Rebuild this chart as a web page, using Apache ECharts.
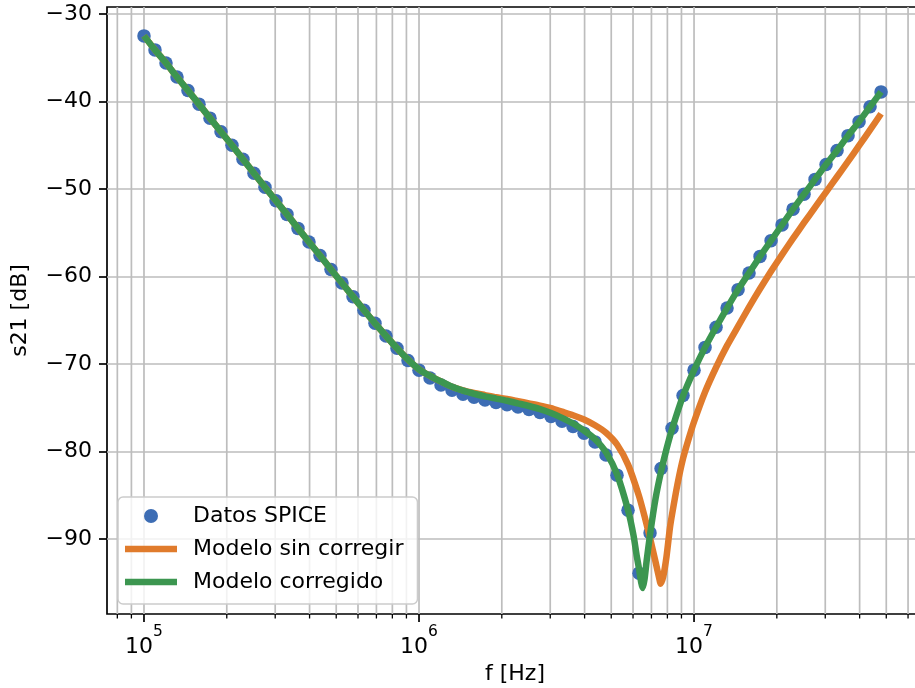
<!DOCTYPE html>
<html><head><meta charset="utf-8">
<script src="https://cdn.jsdelivr.net/npm/echarts@6/dist/echarts.min.js"></script>
<style>html,body{margin:0;padding:0;background:#fff;overflow:hidden}#c{width:915px;height:688px}</style>
</head><body><div id="c"></div>
<script>
// ---------- data ----------
const seriesNames = ['Datos SPICE', 'Modelo sin corregir', 'Modelo corregido'];
const xAxisTitle = 'f [Hz]';
const yAxisTitle = 's21 [dB]';

const spiceFreq = [
  1.0000e5,1.0965e5,1.2023e5,1.3183e5,1.4454e5,1.5849e5,1.7378e5,1.9055e5,2.0893e5,2.2909e5,
  2.5119e5,2.7542e5,3.0200e5,3.3113e5,3.6308e5,3.9811e5,4.3652e5,4.7863e5,5.2481e5,5.7544e5,
  6.3096e5,6.9183e5,7.5858e5,8.3176e5,9.1201e5,
  1.0000e6,1.0965e6,1.2023e6,1.3183e6,1.4454e6,1.5849e6,1.7378e6,1.9055e6,2.0893e6,2.2909e6,
  2.5119e6,2.7542e6,3.0200e6,3.3113e6,3.6308e6,3.9811e6,4.3652e6,4.7863e6,5.2481e6,5.7544e6,
  6.3096e6,6.9183e6,7.5858e6,8.3176e6,9.1201e6,
  1.0000e7,1.0965e7,1.2023e7,1.3183e7,1.4454e7,1.5849e7,1.7378e7,1.9055e7,2.0893e7,2.2909e7,
  2.5119e7,2.7542e7,3.0200e7,3.3113e7,3.6308e7,3.9811e7,4.3652e7,4.7863e7
];
const spiceDb = [
  -32.5,-34.1,-35.6,-37.2,-38.75,-40.3,-41.9,-43.45,-45.0,-46.6,
  -48.2,-49.8,-51.35,-52.9,-54.5,-56.05,-57.6,-59.2,-60.75,-62.3,
  -63.85,-65.35,-66.8,-68.2,-69.6,-70.7,-71.6,-72.4,-73.0,-73.45,
  -73.8,-74.1,-74.4,-74.65,-74.9,-75.2,-75.55,-76.0,-76.55,-77.15,
  -77.9,-78.9,-80.4,-82.7,-86.7,-93.9,-89.3,-81.95,-77.35,-73.6,
  -70.7,-68.1,-65.8,-63.6,-61.5,-59.6,-57.7,-55.9,-54.1,-52.3,
  -50.6,-48.9,-47.2,-45.6,-43.9,-42.3,-40.6,-38.9
];

const uncorrFreq = [
  1.0000e5,1.0965e5,1.2023e5,1.3183e5,1.4454e5,1.5849e5,1.7378e5,1.9055e5,2.0893e5,2.2909e5,
  2.5119e5,2.7542e5,3.0200e5,3.3113e5,3.6308e5,3.9811e5,4.3652e5,4.7863e5,5.2481e5,5.7544e5,
  6.3096e5,6.9183e5,7.5858e5,8.3176e5,9.1201e5,
  1.0000e6,1.0965e6,1.2023e6,1.3183e6,1.4454e6,1.5849e6,1.7378e6,1.9055e6,2.0893e6,2.2909e6,
  2.5119e6,2.7542e6,3.0200e6,3.3113e6,3.6308e6,3.9811e6,4.3652e6,4.7863e6,5.2481e6,5.7544e6,
  6.3096e6,6.607e6,6.9183e6,7.244e6,7.447e6,7.565e6,7.727e6,7.943e6,8.166e6,8.3176e6,
  8.710e6,9.1201e6,9.550e6,
  1.0000e7,1.0965e7,1.2023e7,1.3183e7,1.4454e7,1.5849e7,1.7378e7,1.9055e7,2.0893e7,2.2909e7,
  2.5119e7,2.7542e7,3.0200e7,3.3113e7,3.6308e7,3.9811e7,4.3652e7,4.7863e7
];
const uncorrDb = [
  -32.5,-34.1,-35.6,-37.2,-38.75,-40.3,-41.9,-43.45,-45.0,-46.6,
  -48.2,-49.8,-51.35,-52.9,-54.5,-56.05,-57.6,-59.2,-60.75,-62.3,
  -63.85,-65.35,-66.8,-68.2,-69.5,
  -70.6,-71.35,-72.0,-72.6,-73.0,-73.3,-73.55,-73.8,-74.0,-74.25,
  -74.5,-74.75,-75.05,-75.45,-75.85,-76.35,-77.0,-77.85,-79.2,-81.5,
  -85.1,-87.4,-89.9,-92.6,-94.3,-95.1,-94.3,-92.0,-88.8,-87.2,
  -83.7,-80.8,-78.6,
  -76.6,-73.2,-70.4,-67.9,-65.7,-63.5,-61.4,-59.4,-57.5,-55.65,
  -53.85,-52.1,-50.35,-48.6,-46.85,-45.05,-43.25,-41.4
];

const corrFreq = [
  1.0000e5,1.0965e5,1.2023e5,1.3183e5,1.4454e5,1.5849e5,1.7378e5,1.9055e5,2.0893e5,2.2909e5,
  2.5119e5,2.7542e5,3.0200e5,3.3113e5,3.6308e5,3.9811e5,4.3652e5,4.7863e5,5.2481e5,5.7544e5,
  6.3096e5,6.9183e5,7.5858e5,8.3176e5,9.1201e5,
  1.0000e6,1.0965e6,1.2023e6,1.3183e6,1.4454e6,1.5849e6,1.7378e6,1.9055e6,2.0893e6,2.2909e6,
  2.5119e6,2.7542e6,3.0200e6,3.3113e6,3.6308e6,3.9811e6,4.3652e6,4.7863e6,5.2481e6,5.7544e6,
  6.026e6,6.194e6,6.3096e6,6.427e6,6.505e6,6.607e6,6.730e6,6.9183e6,7.244e6,7.5858e6,
  7.943e6,8.3176e6,9.1201e6,
  1.0000e7,1.0965e7,1.2023e7,1.3183e7,1.4454e7,1.5849e7,1.7378e7,1.9055e7,2.0893e7,2.2909e7,
  2.5119e7,2.7542e7,3.0200e7,3.3113e7,3.6308e7,3.9811e7,4.3652e7,4.7863e7
];
const corrDb = [
  -32.5,-34.1,-35.6,-37.2,-38.75,-40.3,-41.9,-43.45,-45.0,-46.6,
  -48.2,-49.8,-51.35,-52.9,-54.5,-56.05,-57.6,-59.2,-60.75,-62.3,
  -63.85,-65.35,-66.8,-68.2,-69.5,
  -70.6,-71.35,-72.0,-72.6,-73.05,-73.4,-73.7,-73.95,-74.2,-74.5,
  -74.8,-75.15,-75.6,-76.15,-76.8,-77.6,-78.6,-80.1,-82.6,-86.7,
  -89.6,-92.0,-93.4,-95.0,-95.6,-94.6,-92.4,-89.5,-85.4,-82.3,
  -79.7,-77.45,-73.65,
  -70.7,-68.1,-65.8,-63.6,-61.5,-59.6,-57.7,-55.9,-54.1,-52.3,
  -50.6,-48.9,-47.2,-45.6,-43.9,-42.3,-40.6,-38.9
];

const xMajorTicks = [1e5, 1e6, 1e7];
const xMinorTicks = [8e4, 9e4,
  2e5, 3e5, 4e5, 5e5, 6e5, 7e5, 8e5, 9e5,
  2e6, 3e6, 4e6, 5e6, 6e6, 7e6, 8e6, 9e6,
  2e7, 3e7, 4e7, 5e7, 6e7];
const yTicks = [-90, -80, -70, -60, -50, -40, -30];

// ---------- chart ----------
const FONT = 'DejaVu Sans';
const X_MIN = 7.337e4, X_MAX = 6.80e7;
const Y_MIN = -98.57, Y_MAX = -29.2;
const C_BLUE = '#3d6db4', C_ORANGE = '#e07b2c', C_GREEN = '#3c9650';
const GRID_COLOR = '#bdbdbd';
const LEGEND_LINE = 'path://M0,0H52V6.5H0Z';

const zip = (a, b) => a.map((v, i) => [v, b[i]]);
const tickData = xMajorTicks.map(v => [v, Y_MIN, 1]).concat(xMinorTicks.map(v => [v, Y_MIN, 0]));

const chart = echarts.init(document.getElementById('c'), null, {renderer: 'canvas'});
chart.setOption({
  animation: false,
  backgroundColor: '#fff',
  textStyle: {fontFamily: FONT},
  grid: {left: 107, top: 7, width: 816, height: 607, outerBoundsMode: 'none', containLabel: false,
         show: true, borderColor: '#000', borderWidth: 1.7, backgroundColor: 'transparent'},
  xAxis: {
    type: 'log', logBase: 10, min: X_MIN, max: X_MAX,
    name: xAxisTitle, nameLocation: 'middle', nameGap: 46,
    nameTextStyle: {fontSize: 22, color: '#000', fontFamily: FONT},
    axisLine: {show: false},
    axisTick: {show: false},
    splitLine: {show: false},
    minorTick: {show: false},
    axisLabel: {
      showMinLabel: false, showMaxLabel: false, margin: 10,
      formatter: v => {
        const e = Math.log10(v), r = Math.round(e);
        if (Math.abs(e - r) > 1e-6) return '';
        return '{b|10}{s|' + r + '}';
      },
      rich: {
        b: {fontSize: 22, fontFamily: FONT, color: '#000', lineHeight: 34, verticalAlign: 'bottom'},
        s: {fontSize: 15.5, fontFamily: FONT, color: '#000', lineHeight: 15, verticalAlign: 'top'}
      }
    }
  },
  yAxis: {
    type: 'value', min: Y_MIN, max: Y_MAX,
    name: yAxisTitle, nameLocation: 'middle', nameGap: 76, nameRotate: 90,
    nameTextStyle: {fontSize: 22, color: '#000', fontFamily: FONT},
    axisLine: {show: false},
    axisTick: {show: true, length: 8, inside: false, lineStyle: {color: '#000', width: 1.7}, customValues: yTicks},
    axisLabel: {
      customValues: yTicks, margin: 15, fontSize: 22, color: '#000', fontFamily: FONT,
      formatter: v => (v < 0 ? '\u2212' + Math.abs(v) : String(v))
    },
    splitLine: {show: true, lineStyle: {color: GRID_COLOR, width: 1.7}}
  },
  legend: {
    data: [
      {name: seriesNames[0], icon: 'circle'},
      {name: seriesNames[1], icon: LEGEND_LINE},
      {name: seriesNames[2], icon: LEGEND_LINE}
    ],
    orient: 'vertical', left: 118, top: 497,
    padding: [8, 14, 11, 7], itemGap: 11, itemWidth: 52, itemHeight: 14,
    backgroundColor: 'rgba(255,255,255,0.8)', borderColor: '#cccccc', borderWidth: 1.5, borderRadius: 5,
    textStyle: {fontSize: 22, color: '#000', fontFamily: FONT, lineHeight: 22, padding: [0, 0, 0, 11]},
    z: 10
  },
  series: [
    {
      type: 'custom', name: '_xgrid', z: 1, silent: true, clip: false,
      data: tickData,
      encode: {x: 0, y: 1},
      renderItem: (params, api) => {
        const f = api.value(0), major = api.value(2) === 1;
        const t = api.coord([f, Y_MAX]);
        const b = api.coord([f, Y_MIN]);
        return {type: 'group', children: [
          {type: 'line', shape: {x1: t[0], y1: t[1], x2: b[0], y2: b[1]}, style: {stroke: GRID_COLOR, lineWidth: 1.7}},
          {type: 'line', shape: {x1: b[0], y1: b[1], x2: b[0], y2: b[1] + (major ? 8 : 4.5)}, style: {stroke: '#000', lineWidth: major ? 1.7 : 1.3}}
        ]};
      }
    },
    {
      type: 'scatter', name: seriesNames[0], z: 2,
      data: zip(spiceFreq, spiceDb),
      symbol: 'circle', symbolSize: 13.5,
      itemStyle: {color: C_BLUE, opacity: 1}
    },
    {
      type: 'line', name: seriesNames[1], z: 3,
      data: zip(uncorrFreq, uncorrDb),
      showSymbol: false, symbol: 'none', smooth: 0.2,
      lineStyle: {color: C_ORANGE, width: 6.5, join: 'round', cap: 'butt'},
      itemStyle: {color: C_ORANGE}
    },
    {
      type: 'line', name: seriesNames[2], z: 4,
      data: zip(corrFreq, corrDb),
      showSymbol: false, symbol: 'none', smooth: 0.2,
      lineStyle: {color: C_GREEN, width: 6.5, join: 'round', cap: 'butt'},
      itemStyle: {color: C_GREEN}
    }
  ]
});
</script>
</body></html>
